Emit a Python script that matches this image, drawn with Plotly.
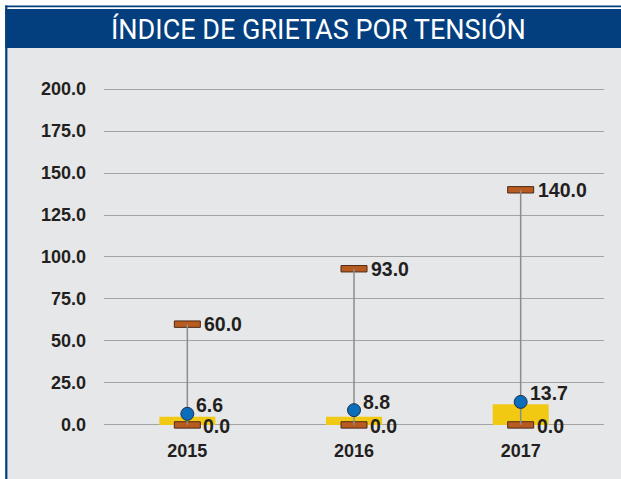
import plotly.graph_objects as go

# ---- data ----
years = ["2015", "2016", "2017"]
max_vals = [60.0, 93.0, 140.0]
min_vals = [0.0, 0.0, 0.0]
avg_vals = [6.6, 8.8, 13.7]
bar_vals = [4.9, 4.9, 12.3]
y_ticks = [0, 25, 50, 75, 100, 125, 150, 175, 200]

# ---- layout constants ----
W, H = 621, 479
ML, MR, MT, MB = 104, 17, 84, 44
Y0, Y1 = -6, 203
unit_px = (H - MT - MB) / (Y1 - Y0)
cap_h = 6.4 / unit_px  # marker bar thickness in data units

GRAY = "#e6e7e9"
BLUE = "#033f7f"
TXT = "#231f20"

fig = go.Figure()

# yellow bars
fig.add_trace(go.Bar(x=years, y=bar_vals, width=0.336,
                     marker=dict(color="#f2c912", line=dict(width=0)),
                     hoverinfo="skip"))

# vertical range lines
lx, ly = [], []
for yr, lo, hi in zip(years, min_vals, max_vals):
    lx += [yr, yr, None]
    ly += [lo, hi, None]
fig.add_trace(go.Scatter(x=lx, y=ly, mode="lines",
                         line=dict(color="#8c8c8c", width=1.5),
                         hoverinfo="skip"))

# brown max / min caps
for vals in (max_vals, min_vals):
    fig.add_trace(go.Bar(x=years, y=[cap_h] * len(vals),
                         base=[v - cap_h / 2 for v in vals], width=0.156,
                         marker=dict(color="#b95a1f", line=dict(color="#4b2b18", width=1)),
                         hoverinfo="skip"))

# blue average dots
fig.add_trace(go.Scatter(x=years, y=avg_vals, mode="markers", cliponaxis=False,
                         marker=dict(size=13, color="#0c6dbb",
                                     line=dict(color="#1c2f4f", width=1)),
                         hoverinfo="skip"))

annotations = []
lab_font = dict(family="Liberation Sans, Arial", size=19.5, color=TXT, weight="bold")
for i, v in enumerate(max_vals):
    annotations.append(dict(x=i, y=v, xref="x", yref="y", text=f"{v:.1f}",
                            showarrow=False, xanchor="left", yanchor="middle",
                            xshift=15, font=lab_font))
for i, v in enumerate(min_vals):
    annotations.append(dict(x=i, y=v, xref="x", yref="y", text=f"{v:.1f}",
                            showarrow=False, xanchor="left", yanchor="middle",
                            xshift=14, yshift=-1.5, font=lab_font))
for i, v in enumerate(avg_vals):
    annotations.append(dict(x=i, y=v, xref="x", yref="y", text=f"{v:.1f}",
                            showarrow=False, xanchor="left", yanchor="middle",
                            xshift=7, yshift=8.5, font=lab_font))

# pixel -> paper helpers
pw, ph = W - ML - MR, H - MT - MB
def px(x):
    return (x - ML) / pw
def py(y):
    return (H - MB - y) / ph

annotations.append(dict(x=px(318.5), y=py(29), xref="paper", yref="paper",
                        text="ÍNDICE DE GRIETAS POR TENSIÓN", showarrow=False,
                        xanchor="center", yanchor="middle",
                        font=dict(family="Roboto, Liberation Sans, Arial", size=27, color="white")))

shapes = [
    dict(type="rect", xref="paper", yref="paper", x0=px(0), x1=px(5.2), y0=py(H), y1=py(0),
         fillcolor="white", line=dict(width=0), layer="below"),
    dict(type="rect", xref="paper", yref="paper", x0=px(0), x1=px(W), y0=py(9), y1=py(0),
         fillcolor="white", line=dict(width=0), layer="below"),
    dict(type="rect", xref="paper", yref="paper", x0=px(5.2), x1=px(7.4), y0=py(H), y1=py(5.5),
         fillcolor=BLUE, line=dict(width=0), layer="below"),
    dict(type="rect", xref="paper", yref="paper", x0=px(5.2), x1=px(W), y0=py(7.3), y1=py(5.5),
         fillcolor=BLUE, line=dict(width=0), layer="below"),
    dict(type="rect", xref="paper", yref="paper", x0=px(5.2), x1=px(W), y0=py(48), y1=py(9),
         fillcolor=BLUE, line=dict(width=0), layer="below"),
]

tick_font = dict(family="Liberation Sans, Arial", size=18, color=TXT, weight="bold")
fig.update_layout(
    width=W, height=H,
    margin=dict(l=ML, r=MR, t=MT, b=MB, pad=0),
    paper_bgcolor=GRAY, plot_bgcolor="rgba(0,0,0,0)",
    barmode="overlay", showlegend=False,
    annotations=annotations, shapes=shapes,
    xaxis=dict(type="category", range=[-0.5, 2.5], showgrid=False, zeroline=False,
               showline=False, ticks="", tickfont=tick_font, ticklabelstandoff=3),
    yaxis=dict(range=[Y0, Y1], tickvals=y_ticks, tickformat=".1f", showgrid=True,
               gridcolor="#a3a3a3", gridwidth=1, zeroline=False, showline=False,
               ticks="", tickfont=tick_font, ticklabelstandoff=17),
)

fig.write_html("out.html", config={"displayModeBar": False},
               post_script="document.body.style.margin='0';")
